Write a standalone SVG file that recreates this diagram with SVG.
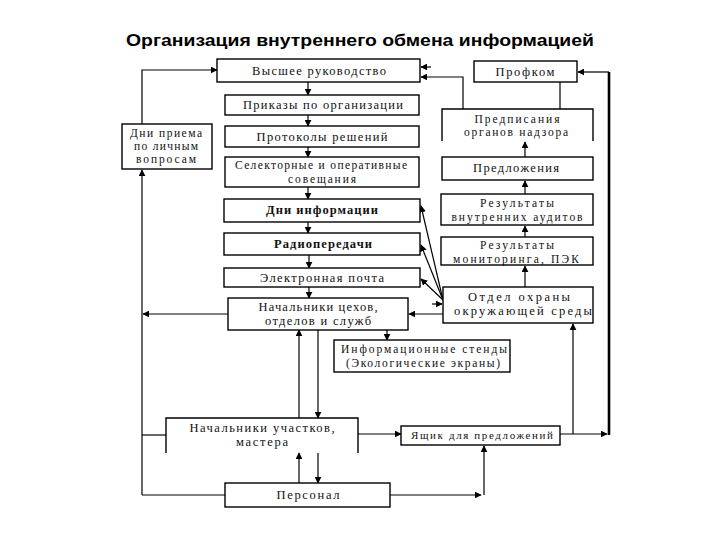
<svg xmlns="http://www.w3.org/2000/svg" width="720" height="540" viewBox="0 0 720 540">
<defs>
<marker id="ah" viewBox="0 0 10 10" refX="9" refY="5" markerWidth="7" markerHeight="7" markerUnits="userSpaceOnUse" orient="auto">
<path d="M0,0 L10,5 L0,10 z" fill="#000"/>
</marker>
</defs>
<style>
.b{fill:#fff;stroke:#000;stroke-width:1.4}
.o{fill:none;stroke:#000;stroke-width:1.4}
text.t{font-family:'Liberation Serif','Times New Roman',serif;font-size:12.5px;fill:#111;text-anchor:middle}
text.s{font-size:11.5px}
text.bd{font-weight:bold}
.c{fill:none;stroke:#000;stroke-width:1.2}
.a{fill:none;stroke:#000;stroke-width:1.2;marker-end:url(#ah)}
.title{font-family:'Liberation Sans',Arial,sans-serif;font-size:17px;font-weight:bold;fill:#000;text-anchor:middle}
</style>
<rect width="720" height="540" fill="#fff"/>
<text class="title" x="360" y="46" textLength="468" lengthAdjust="spacingAndGlyphs">Организация внутреннего обмена информацией</text>

<g id="connectors">
<path class="a" d="M308,82 V95"/>
<path class="a" d="M308,115 V126"/>
<path class="a" d="M308,147 V157"/>
<path class="a" d="M308,187 V199"/>
<path class="a" d="M308,222 V233"/>
<path class="a" d="M309,255 V268"/>
<path class="a" d="M309,287 V298"/>
<path class="a" d="M142,124 V70 H217"/>
<path class="a" d="M142,495 V170"/>
<path class="c" d="M225,495 H142"/>
<path class="c" d="M166,435 H142"/>
<path class="a" d="M228,314 H143"/>
<path class="a" d="M299,418 V330"/>
<path class="a" d="M318,330 V418"/>
<path class="a" d="M299,483 V453"/>
<path class="a" d="M318,453 V483"/>
<path class="a" d="M387,330 V340"/>
<path class="a" d="M358,434 H401"/>
<path class="a" d="M390,495 H481"/>
<path class="a" d="M484,495 V446"/>
<path class="a" d="M560,434 H607"/>
<path class="a" d="M573,434 V324"/>
<path fill="none" stroke="#000" stroke-width="2.6" d="M609,435 V72"/>
<path class="a" d="M609,72 H578"/>
<path class="a" d="M525,287 V266"/>
<path class="a" d="M525,237 V226"/>
<path class="a" d="M525,194 V181"/>
<path class="a" d="M525,157 V142"/>
<path class="a" d="M463,109 V77 H421"/>
<path class="a" d="M431,67 H421"/>
<path class="c" d="M560,82 V109"/>
<path class="a" d="M443,300 L421,206"/>
<path class="a" d="M443,300 L421,245"/>
<path class="a" d="M443,300 L421,279"/>
<path class="a" d="M443,314 H409"/>
<path class="a" d="M432,304 H442"/>
</g>

<g id="n-vysshee"><rect class="b" x="217" y="59" width="203" height="23"/><text class="t" x="319" y="75" textLength="134">Высшее руководство</text></g>
<g id="n-prikazy"><rect class="b" x="225" y="95" width="194" height="20"/><text class="t" x="323" y="109" textLength="160">Приказы по организации</text></g>
<g id="n-protokoly"><rect class="b" x="225" y="126" width="194" height="21"/><text class="t" x="322" y="141" textLength="131">Протоколы решений</text></g>
<g id="n-selektor"><rect class="b" x="225" y="157" width="194" height="30"/><text class="t s" x="321" y="169" textLength="172">Селекторные и оперативные</text><text class="t s" x="322" y="183" textLength="68">совещания</text></g>
<g id="n-dni-priema"><rect class="b" x="122" y="124" width="90" height="45"/><text class="t s" x="166" y="137" textLength="72">Дни приема</text><text class="t s" x="166" y="150" textLength="64">по личным</text><text class="t s" x="166" y="163" textLength="60">вопросам</text></g>
<g id="n-dni-info"><rect class="b" x="224" y="199" width="196" height="23"/><text class="t bd" x="322" y="214" textLength="112">Дни информации</text></g>
<g id="n-radio"><rect class="b" x="224" y="233" width="196" height="22"/><text class="t bd" x="323" y="248" textLength="98">Радиопередачи</text></g>
<g id="n-email"><rect class="b" x="224" y="268" width="196" height="19"/><text class="t" x="322" y="282" textLength="124">Электронная почта</text></g>
<g id="n-nach-tsekhov"><rect class="b" x="228" y="298" width="180" height="32"/><text class="t" x="318" y="311" textLength="119">Начальники цехов,</text><text class="t" x="318" y="325" textLength="106">отделов и служб</text></g>
<g id="n-stendy"><rect class="b" x="334" y="340" width="176" height="32"/><text class="t s" x="424" y="353" textLength="166">Информационные стенды</text><text class="t s" x="423" y="367" textLength="154">(Экологические экраны)</text></g>
<g id="n-nach-uchastkov"><path class="o" d="M166,453 V418 H358 V453"/><text class="t" x="262" y="432" textLength="145">Начальники участков,</text><text class="t" x="262" y="446" textLength="52">мастера</text></g>
<g id="n-personal"><rect class="b" x="225" y="483" width="165" height="24"/><text class="t" x="308" y="499" textLength="63">Персонал</text></g>
<g id="n-yashchik"><rect class="b" x="401" y="426" width="159" height="19"/><text class="t" x="482" y="439" style="font-size:11px" textLength="142">Ящик для предложений</text></g>
<g id="n-profkom"><rect class="b" x="474" y="61" width="103" height="21"/><text class="t" x="525" y="76" textLength="59">Профком</text></g>
<g id="n-predpisaniya"><path class="o" d="M442,141 V109 H593 V141"/><text class="t s" x="517" y="122.5" textLength="85">Предписания</text><text class="t s" x="516" y="136" textLength="104">органов надзора</text></g>
<g id="n-predlozheniya"><rect class="b" x="442" y="157" width="151" height="23"/><text class="t" x="516" y="172" textLength="86">Предложения</text></g>
<g id="n-audity"><rect class="b" x="441" y="194" width="152" height="31"/><text class="t s" x="517" y="207" textLength="74">Результаты</text><text class="t s" x="517" y="221" textLength="131">внутренних аудитов</text></g>
<g id="n-monitoring"><rect class="b" x="441" y="237" width="152" height="28"/><text class="t s" x="517" y="249" textLength="74">Результаты</text><text class="t s" x="516" y="262.5" textLength="126">мониторинга, ПЭК</text></g>
<g id="n-otdel"><rect class="b" x="443" y="287" width="150" height="36"/><text class="t" x="519" y="301" textLength="102">Отдел охраны</text><text class="t" x="523" y="315" textLength="138">окружающей среды</text></g>
</svg>
